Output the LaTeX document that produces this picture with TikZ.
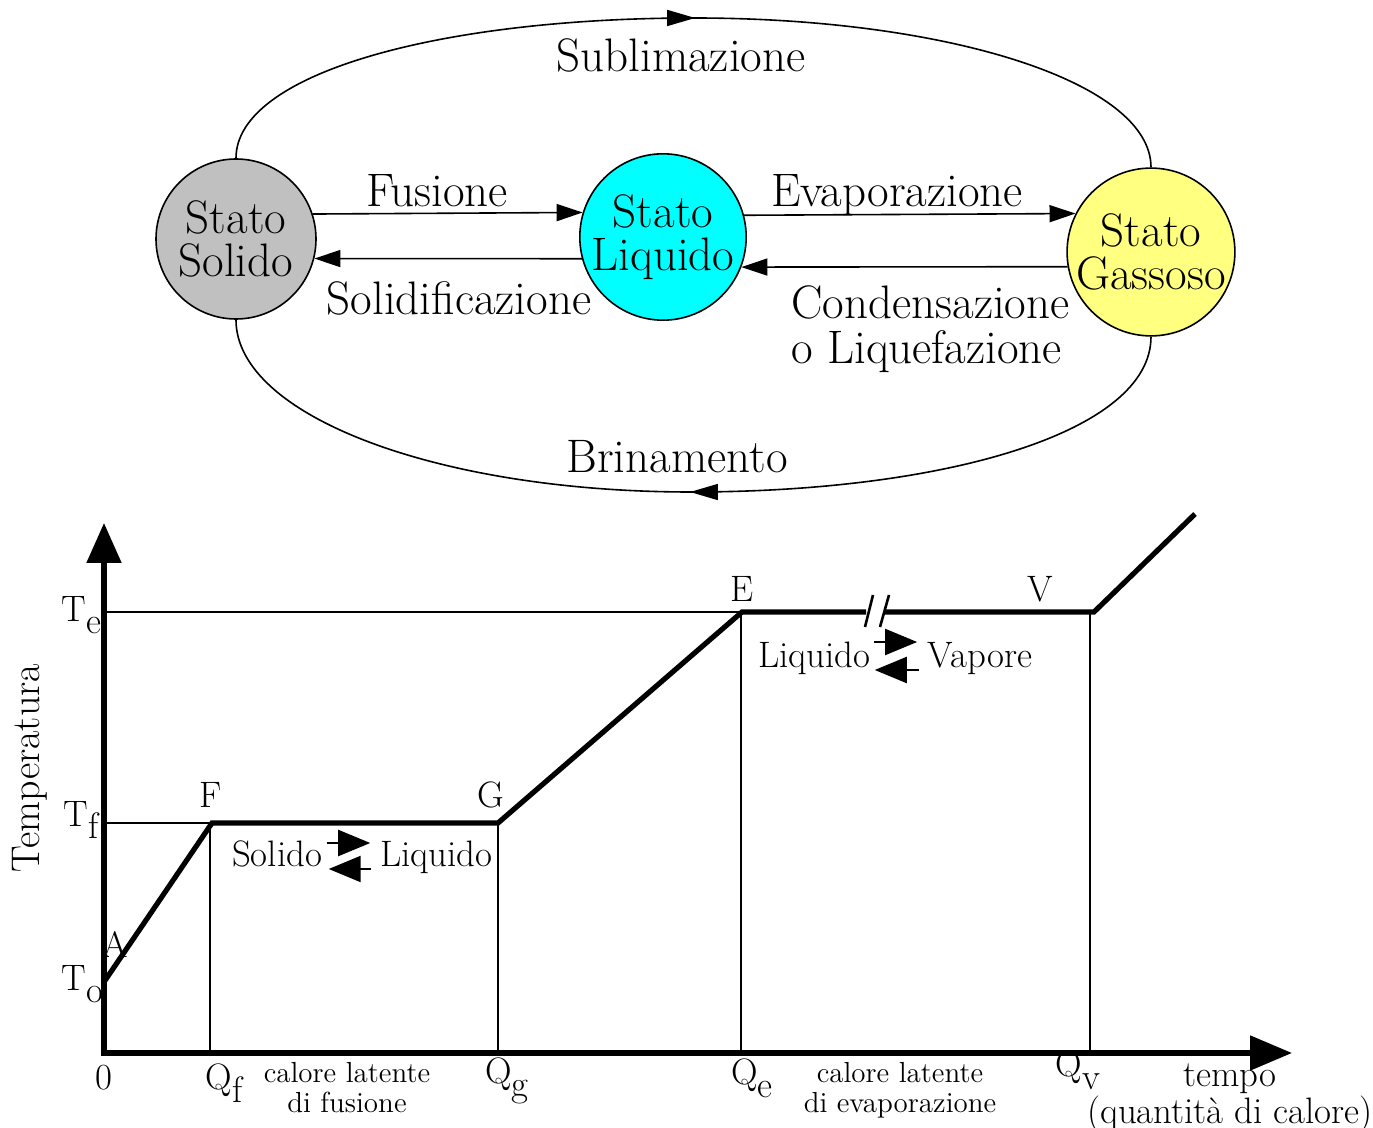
\documentclass[tikz,border=0pt]{standalone}
\usepackage{fontspec}
\usepackage{tikz, color}
\usetikzlibrary{automata, positioning, arrows.meta, calc, decorations.markings}
\definecolor{grigio}{RGB}{192,192,192}
\definecolor{ciano}{RGB}{0,255,255}
\definecolor{giallo}{RGB}{255,255,128}
\newcommand{\pedice}[1]{\raisebox{-0.8ex}{#1}}
\tikzset{
  passaggi/.style={
	->, % archi orientati
	>={Triangle[length=13pt,width=8.5pt]}, % punte piene
	line width=0.8pt,
	node distance=213.5pt, % distanza fra i centri degli stati
	every state/.style={draw=black,line width=0.8pt,minimum size=80pt,inner sep=0pt,align=center}, % stati della materia
	font=\fontsize{23.5}{21.5}\selectfont,
  },
  freccia avanti/.style={-, postaction=decorate,
	decoration={markings, mark=at position 0.5 with {\arrow{Triangle[length=14pt,width=8pt]}}}},
  freccia indietro/.style={-, postaction=decorate,
	decoration={markings, mark=at position 0.5 with {\arrowreversed{Triangle[length=14pt,width=8pt]}}}},
  asse/.style={{Triangle[length=20pt,width=17pt]}-{Triangle[length=21pt,width=17pt]}, line width=2.6pt},
  spesso/.style={-, line width=2.6pt},
  sottile/.style={-, line width=1.1pt},
  rottura/.style={-, line width=1.3pt},
  equil/.style={-{Triangle[length=16pt,width=13pt]}, line width=1.1pt},
  etichetta/.style={font=\fontsize{18.4}{19}\selectfont},
  piccola/.style={font=\fontsize{14.5}{15}\selectfont, align=center},
}

\begin{document}
\begin{tikzpicture}[x=0.5pt, y=-0.5pt, passaggi]
	  \useasboundingbox (0,0) rectangle (1373,1128);
	  % stati
	  \node[state, fill=grigio] at (236,239) (sol) {Stato\\Solido};
	  \node[state, fill=ciano, right of=sol, yshift=1pt, xshift=0pt] (liq) {Stato\\Liquido};
	  \node[state, fill=giallo, right of=liq, yshift=-7.5pt, xshift=30.5pt] (gas) {Stato\\Gassoso};

	  \draw (sol.18) -- (liq.163);
	  \draw (liq.195) -- (sol.-14);
	  \draw (liq.15) -- (gas.153);
	  \draw (gas.190) -- (liq.-21);
	  \draw[freccia avanti] (sol.north) .. controls +(0,-85) and (440,18) .. (694,18)
		  .. controls (948,18) and +(0,-85) .. (gas.north);
	  \draw[freccia indietro] (sol.south) .. controls +(0,96) and (438,492) .. (691,492)
		  .. controls (944,492) and +(0,96) .. (gas.south);

	  \node at (681,55) (sublim) {Sublimazione};
	  \node at (437,191) (fus) {Fusione};
	  \node at (459,298) (solidif) {Solidificazione};
	  \node at (897,195) (evap) {Evaporazione};
	  \node[anchor=west, align=left, font=\fontsize{23.5}{22.5}\selectfont] at (784,329) (cond) {Condensazione\\o Liquefazione};
	  \node at (677,457) (brin) {Brinamento};

	  % grafico
	  \coordinate (O) at (104,1053);
	  \coordinate (Ymax) at (104,523);
	  \coordinate (Xmax) at (1292,1053);
	  \coordinate (T0) at (104,982);
	  \coordinate (Tf) at (104,823);
	  \coordinate (Te) at (104,612);
	  \coordinate (F) at (212,823);
	  \coordinate (G) at (498,823);
	  \coordinate (E) at (742,612);
	  \coordinate (V) at (1094,612);
	  \coordinate (fine) at (1195,514);
	  \coordinate (r1) at (866,612);
	  \coordinate (r2) at (884,612);
	  \coordinate (Qf) at (210,1053);
	  \coordinate (Qg) at (498,1053);
	  \coordinate (Qe) at (741,1053);
	  \coordinate (Qv) at (1090,1053);

	  \draw[sottile] (Te) -- (E);
	  \draw[sottile] (Tf) -- (F);
	  \draw[sottile] (Qf) -- (Qf |- F);
	  \draw[sottile] (Qg) -- (Qg |- G);
	  \draw[sottile] (Qe) -- (Qe |- E);
	  \draw[sottile] (Qv) -- (Qv |- V);
	  \draw[asse] (Ymax) -- (O) -- (Xmax);
	  \draw[spesso] (T0) -- (F) -- (G) -- (E) -- (r1);
	  \draw[spesso] (r2) -- (V) -- (fine);
	  \draw[rottura] ($(r1)+(-1,15)$) -- ($(r1)+(7,-17)$);
	  \draw[rottura] ($(r2)+(-4,15)$) -- ($(r2)+(5,-17)$);

	  \begin{scope}[etichetta]
	  \node[anchor=east, inner sep=0pt] at (102,615) (lTe) {T\pedice{e}};
	  \node[anchor=east, inner sep=0pt] at (99,820) (lTf) {T\pedice{f}};
	  \node[anchor=east, inner sep=0pt] at (104,984) (lTo) {T\pedice{o}};
	  \node at (115,944) (lA) {A};
	  \node at (211,795) (lF) {F};
	  \node at (491,795) (lG) {G};
	  \node at (742,589) (lE) {E};
	  \node at (1040,589) (lV) {V};
	  \node at (104,1078) (lO) {0};
	  \node at (224,1083) (lQf) {Q\pedice{f}};
	  \node at (507,1081) (lQg) {Q\pedice{g}};
	  \node at (752,1078) (lQe) {Q\pedice{e}};
	  \node[inner sep=1pt] at (1078,1070) (lQv) {Q\pedice{v}};
	  \node[rotate=90, font=\fontsize{20}{20}\selectfont] at (30,768) (temp) {Temperatura};

	  \node[anchor=base, inner sep=0pt] at (277,867) (eqsol) {Solido};
	  \node[anchor=base, inner sep=0pt] at (436,867) (eqliq) {Liquido};
	  \draw[equil] ([shift={(4,-24)}]eqsol.base east) -- ([shift={(-9,-24)}]eqliq.base west);
	  \draw[equil] ([shift={(-8,2)}]eqliq.base west) -- ([shift={(6,2)}]eqsol.base east);

	  \node[anchor=base, inner sep=0pt] at (814,668) (liqv) {Liquido};
	  \node[anchor=base, inner sep=0pt] at (980,668) (vap) {Vapore};
	  \draw[equil] ([shift={(3,-26)}]liqv.base east) -- ([shift={(-10,-26)}]vap.base west);
	  \draw[equil] ([shift={(-8,2)}]vap.base west) -- ([shift={(4,2)}]liqv.base east);

	  \node[piccola] at (347,1088) (latf) {calore latente\\di fusione};
	  \node[piccola] at (900,1090) (late) {calore latente\\di evaporazione};
	  \node[align=center, inner sep=1pt, font=\fontsize{18.4}{15.5}\selectfont] at (1230,1098) (tempo) {tempo\\(quantità di calore)};
	  \end{scope}
	  \end{tikzpicture}
\end{document}
